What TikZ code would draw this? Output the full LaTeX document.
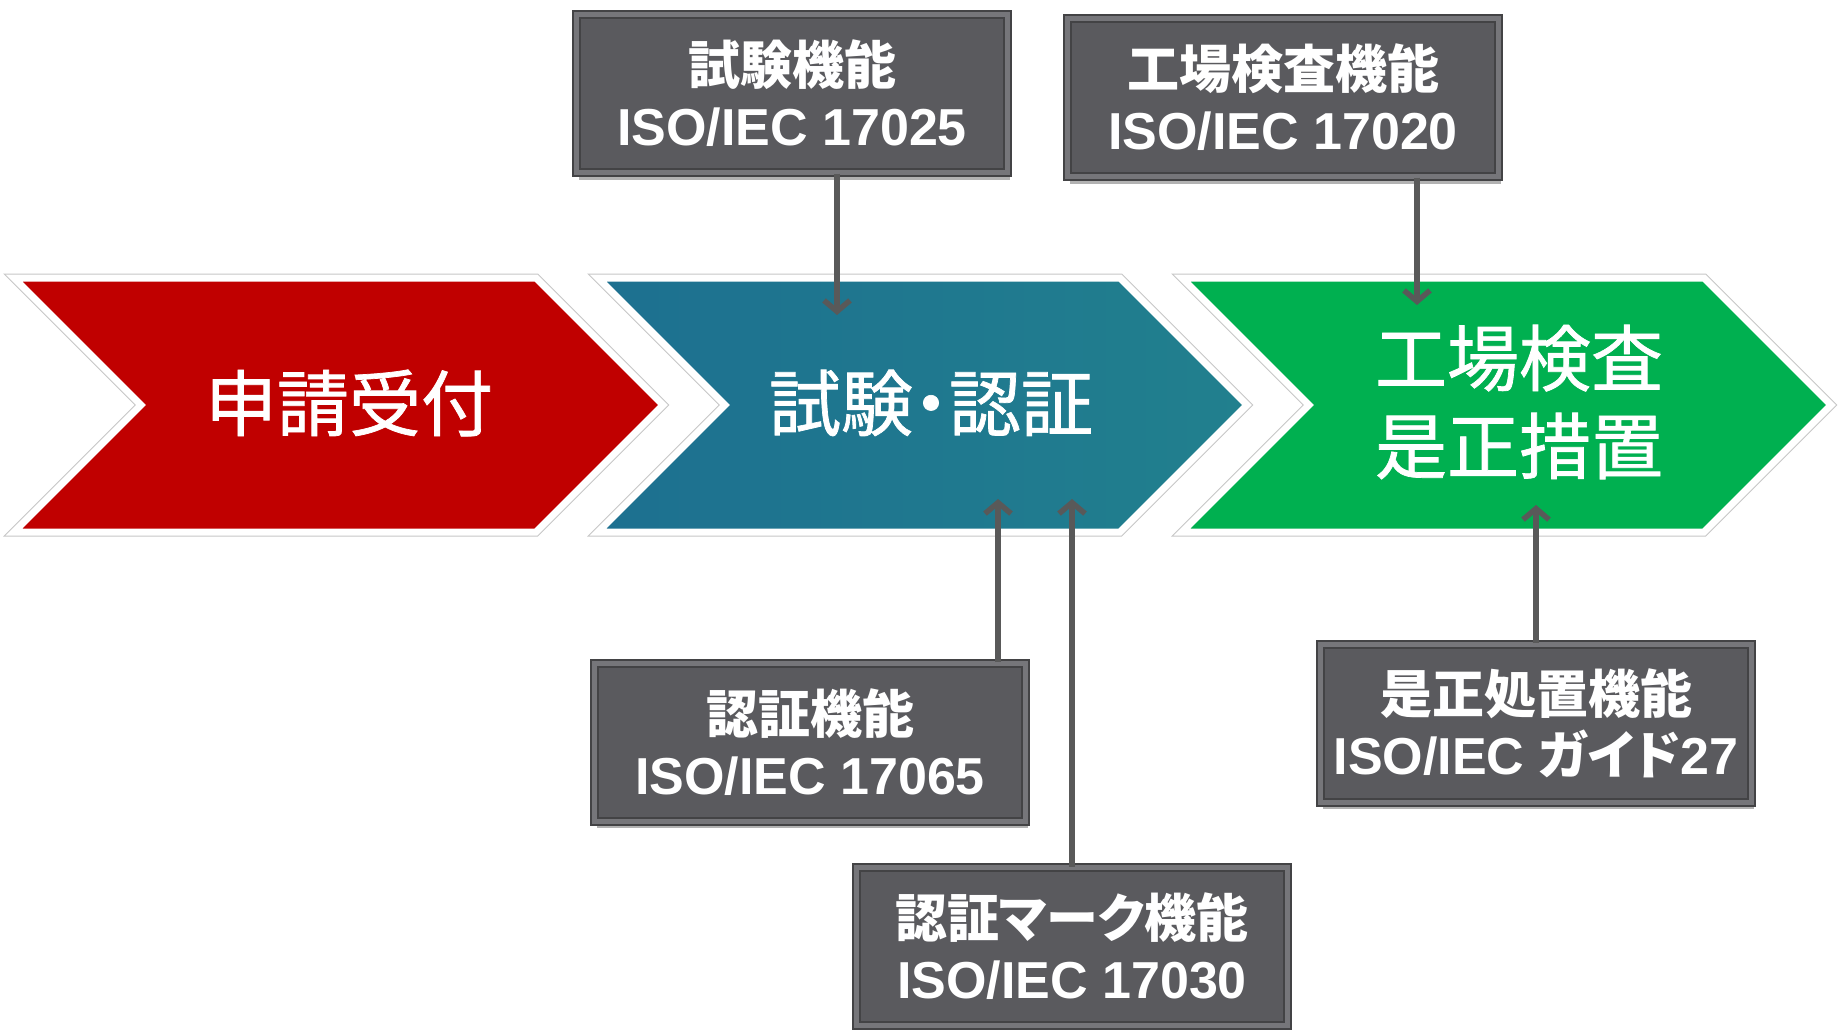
\documentclass[tikz,border=0pt]{standalone}
\usepackage{fontspec}
\setmainfont{Liberation Sans}
\newfontfamily\jp[RawFeature=+palt]{Noto Sans CJK JP}
\newfontfamily\jpc[RawFeature=+palt,FakeBold=1]{Noto Sans CJK JP}
\usetikzlibrary{arrows.meta,shadows}
\definecolor{cred}{HTML}{C00000}
\definecolor{ctealA}{HTML}{1D7090}
\definecolor{ctealB}{HTML}{21808E}
\definecolor{cgreen}{HTML}{00B050}
\definecolor{boxfill}{HTML}{5A5A5E}
\definecolor{boxedge}{HTML}{434345}
\definecolor{boxbevel}{HTML}{76767A}
\definecolor{connc}{HTML}{595959}
\newcommand\mychev[2]{%
  \draw[chevout] (#1,278) -- ++(522,0) -- ++(127,127) -- ++(-127,127) -- ++(-522,0) -- ++(127,-127) -- cycle;
  \draw[chevin,#2] (#1,278) -- ++(522,0) -- ++(127,127) -- ++(-127,127) -- ++(-522,0) -- ++(127,-127) -- cycle;
}
\tikzset{
  chevout/.style={draw=black!22, line width=9pt, line join=miter, miter limit=10},
  chevin/.style={draw=white, line width=7pt, line join=miter, miter limit=10},
  chevtext/.style={text=white, font=\jpc\fontsize{72}{88}\selectfont, align=center, inner sep=0pt},
  fnbox/.style={fill=boxfill, draw=boxedge, double=boxbevel, double distance=5pt, line width=2pt,
    minimum width=431pt, minimum height=158pt, text=white, align=center, inner sep=0pt,
    font=\fontsize{52}{61}\selectfont\bfseries,
    drop shadow={shadow xshift=2pt, shadow yshift=-7pt, opacity=0.3, fill=black}},
  conn/.style={draw=connc, line width=5.5pt, -{Straight Barb[length=11pt,width=26pt]}}
}
\begin{document}
\begin{tikzpicture}[x=1pt,y=-1pt]
\useasboundingbox (0,0) rectangle (1841,1029);
\fill[white] (0,0) rectangle (1841,1029);
\clip (0,0) rectangle (1841,1029);

% chevrons
\mychev{14}{fill=cred}
\mychev{598}{left color=ctealA, right color=ctealB}
\mychev{1182}{fill=cgreen}

\node[chevtext] (c1) at (349,403) {申請受付};
\node[chevtext] (c2) at (931,403) {試験・認証};
\node[chevtext] (c3) at (1519,402) {工場検査\\是正措置};

% function boxes
\node[fnbox] (b1) at (792,93.5) {{\jp 試験機能}\\ISO/IEC 17025};
\node[fnbox] (b2) at (1283,97.5) {{\jp 工場検査機能}\\ISO/IEC 17020};
\node[fnbox] (b3) at (810,742) {{\jp 認証機能}\\ISO/IEC 17065};
\node[fnbox] (b4) at (1072,946.5) {{\jp 認証マーク機能}\\ISO/IEC 17030};
\node[fnbox] (b5) at (1536,723) {{\jp 是正処置機能}\\ISO/IEC {\jp ガイド}27};

% connector ends
\coordinate (t1) at (837,315);
\coordinate (t2) at (1417,305);
\coordinate (t3) at (998,499);
\coordinate (t4) at (1072,499);
\coordinate (t5) at (1536,505);

\draw[conn] (b1.south -| t1) -- (t1);
\draw[conn] (b2.south -| t2) -- (t2);
\draw[conn] (b3.north -| t3) -- (t3);
\draw[conn] (b4.north -| t4) -- (t4);
\draw[conn] (b5.north -| t5) -- (t5);
\end{tikzpicture}
\end{document}
